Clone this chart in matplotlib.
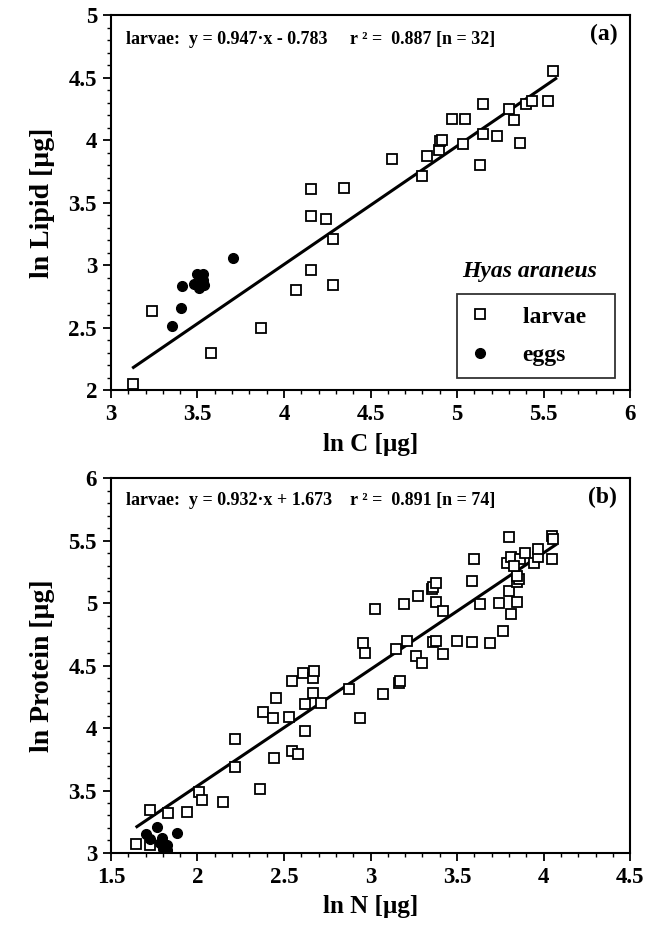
import numpy as np
import matplotlib
matplotlib.use("Agg")
import matplotlib.pyplot as plt
from matplotlib.ticker import MultipleLocator, FuncFormatter

plt.rcParams["font.family"] = ["Liberation Serif", "DejaVu Serif"]
plt.rcParams["font.weight"] = "bold"

# ---------------------------------------------------------------------------
# Data
# ---------------------------------------------------------------------------
# (a) ln C vs ln Lipid
a_larvae_x = [3.13, 3.235, 3.576, 3.865, 4.067, 4.154, 4.285, 4.285, 4.24,
              4.154, 4.154, 4.347, 4.626, 4.80, 4.825, 4.896, 4.902, 4.91,
              4.969, 5.046, 5.037, 5.13, 5.152, 5.152, 5.23, 5.30, 5.326,
              5.364, 5.397, 5.435, 5.528, 5.557]
a_larvae_y = [2.05, 2.63, 2.30, 2.50, 2.80, 2.96, 2.84, 3.21, 3.37,
              3.39, 3.61, 3.62, 3.85, 3.71, 3.87, 3.92, 3.99, 4.00,
              4.17, 4.17, 3.97, 3.80, 4.05, 4.29, 4.03, 4.25, 4.16,
              3.98, 4.29, 4.31, 4.31, 4.555]
a_eggs_x = [3.354, 3.403, 3.412, 3.482, 3.499, 3.53, 3.534, 3.509, 3.54, 3.703]
a_eggs_y = [2.51, 2.66, 2.83, 2.85, 2.93, 2.93, 2.88, 2.82, 2.84, 3.06]
a_fit = (0.947, -0.783)
a_fit_range = (3.13, 5.57)

# (b) ln N vs ln Protein
b_larvae_x = [1.643, 1.725, 1.725, 1.828, 1.938, 2.009, 2.024, 2.149, 2.217,
              2.217, 2.361, 2.38, 2.438, 2.452, 2.442, 2.529, 2.548, 2.548,
              2.583, 2.611, 2.621, 2.621, 2.666, 2.675, 2.666, 2.714, 2.878,
              2.939, 2.958, 2.968, 3.026, 3.074, 3.147, 3.165, 3.17, 3.209,
              3.263, 3.30, 3.195, 3.276, 3.354, 3.363, 3.379, 3.379, 3.417,
              3.36, 3.379, 3.417, 3.498, 3.585, 3.69, 3.764, 3.585, 3.598,
              3.633, 3.745, 3.81, 3.849, 3.802, 3.849, 3.855, 3.845, 3.787,
              3.81, 3.802, 3.864, 3.893, 3.945, 3.97, 3.97, 4.047, 4.047,
              4.057, 3.83]
b_larvae_y = [3.07, 3.34, 3.06, 3.32, 3.33, 3.49, 3.42, 3.41, 3.69,
              3.91, 3.51, 4.13, 4.08, 4.24, 3.76, 4.09, 4.38, 3.82,
              3.79, 4.44, 4.19, 3.98, 4.40, 4.46, 4.28, 4.20, 4.31,
              4.08, 4.68, 4.60, 4.95, 4.27, 4.63, 4.36, 4.38, 4.70,
              4.58, 4.52, 4.99, 5.06, 5.11, 5.13, 5.16, 5.01, 4.94,
              4.69, 4.70, 4.59, 4.70, 4.69, 4.68, 4.78, 5.18, 5.35,
              4.99, 5.00, 4.91, 5.01, 5.10, 5.17, 5.19, 5.22, 5.32,
              5.37, 5.53, 5.35, 5.40, 5.32, 5.37, 5.43, 5.35, 5.54,
              5.51, 5.30]
b_eggs_x = [1.702, 1.764, 1.725, 1.793, 1.783, 1.822, 1.802, 1.822, 1.883]
b_eggs_y = [3.15, 3.21, 3.11, 3.12, 3.08, 3.06, 3.03, 3.02, 3.16]
b_fit = (0.932, 1.673)
b_fit_range = (1.65, 4.07)


def style_axis(ax, xlim, ylim):
    ax.set_xlim(*xlim)
    ax.set_ylim(*ylim)
    ax.xaxis.set_major_locator(MultipleLocator(0.5))
    ax.xaxis.set_minor_locator(MultipleLocator(0.1))
    ax.yaxis.set_major_locator(MultipleLocator(0.5))
    ax.yaxis.set_minor_locator(MultipleLocator(0.1))
    fmt = FuncFormatter(lambda v, p: f"{v:g}")
    ax.xaxis.set_major_formatter(fmt)
    ax.yaxis.set_major_formatter(fmt)
    ax.tick_params(which="major", direction="out", length=6, width=1.3,
                   labelsize=16.5, pad=4)
    ax.tick_params(which="minor", direction="out", length=3, width=1.0)
    for sp in ax.spines.values():
        sp.set_linewidth(1.5)
    for lab in ax.get_xticklabels() + ax.get_yticklabels():
        lab.set_fontweight("bold")


def draw_panel(ax, lx, ly, ex, ey, fit, frange):
    xs = np.array(frange)
    ax.plot(xs, fit[0] * xs + fit[1], color="black", lw=2.2, zorder=2)
    ax.plot(lx, ly, "s", ms=6.5, mfc="white", mec="black", mew=1.3,
            ls="none", label="larvae   ", zorder=3)
    ax.plot(ex, ey, "o", ms=7, mfc="black", mec="black",
            ls="none", label="eggs", zorder=3)


def annotate(ax, text, tag, ytext, ytag):
    ax.text(0.029, ytext, text, transform=ax.transAxes, fontsize=13,
            fontweight="bold", va="center", ha="left")
    ax.text(0.975, ytag, tag, transform=ax.transAxes, fontsize=17,
            fontweight="bold", va="center", ha="right")


fig = plt.figure(figsize=(6.45, 9.3), dpi=100)
ax_a = fig.add_axes([0.172, 0.5806, 0.805, 0.4032])
ax_b = fig.add_axes([0.172, 0.0828, 0.805, 0.4032])

# Panel (a)
draw_panel(ax_a, a_larvae_x, a_larvae_y, a_eggs_x, a_eggs_y, a_fit, a_fit_range)
style_axis(ax_a, (3, 6), (2, 5))
annotate(ax_a,
         "larvae:  y = 0.947\u00b7x - 0.783     r \u00b2 =  0.887 [n = 32]",
         "(a)", 0.936, 0.947)
ax_a.set_xlabel("ln C [\u00b5g]", fontsize=18, fontweight="bold", va="center")
ax_a.set_ylabel("ln Lipid [\u00b5g]", fontsize=20, fontweight="bold", va="center")
ax_a.xaxis.set_label_coords(0.5, -0.144)
ax_a.yaxis.set_label_coords(-0.131, 0.5)
ax_a.text(0.807, 0.315, "Hyas araneus", transform=ax_a.transAxes,
          fontsize=17, fontweight="bold", style="italic",
          va="center", ha="center")
leg = ax_a.legend(loc="lower right", bbox_to_anchor=(0.971, 0.032),
                  borderaxespad=0, fontsize=17, frameon=True, fancybox=False,
                  edgecolor="black", handlelength=0.95, handletextpad=1.33,
                  labelspacing=0.72, borderpad=0.5, numpoints=1)
leg.get_frame().set_linewidth(1.3)
for t in leg.get_texts():
    t.set_fontweight("bold")

# Panel (b)
draw_panel(ax_b, b_larvae_x, b_larvae_y, b_eggs_x, b_eggs_y, b_fit, b_fit_range)
style_axis(ax_b, (1.5, 4.5), (3, 6))
annotate(ax_b,
         "larvae:  y = 0.932\u00b7x + 1.673    r \u00b2 =  0.891 [n = 74]",
         "(b)", 0.941, 0.947)
ax_b.set_xlabel("ln N [\u00b5g]", fontsize=18, fontweight="bold", va="center")
ax_b.set_ylabel("ln Protein [\u00b5g]", fontsize=20, fontweight="bold", va="center")
ax_b.xaxis.set_label_coords(0.5, -0.144)
ax_b.yaxis.set_label_coords(-0.131, 0.5)

fig.savefig("out.png", dpi=100)
plt.close("all")
